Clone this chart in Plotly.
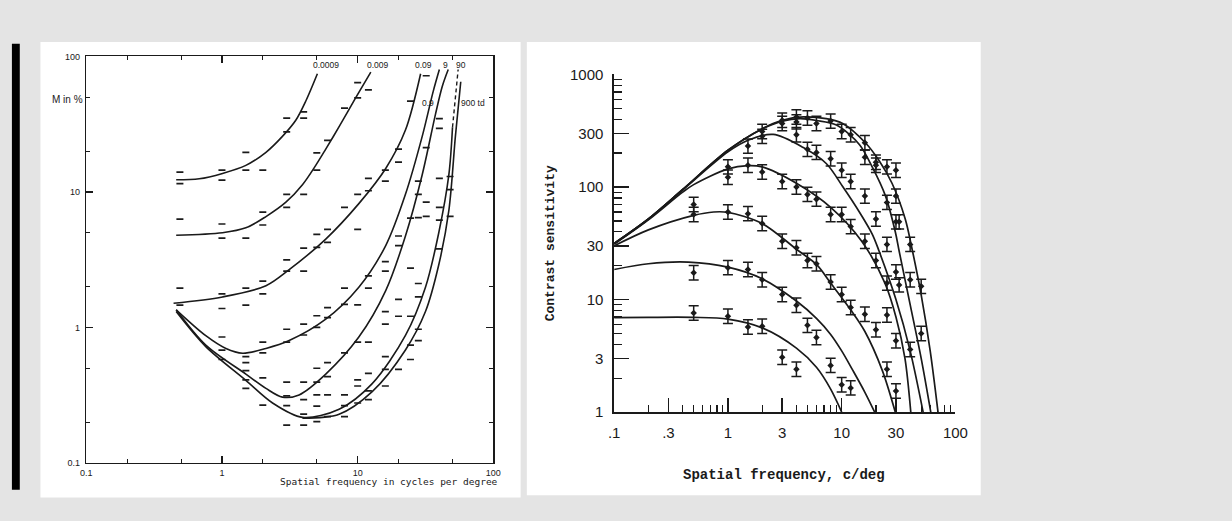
import plotly.graph_objects as go

W, H = 1232, 521

# ---------------- Left chart data (threshold modulation M in % vs spatial frequency) ----------------
c0009_x = [0.46, 0.68, 1.01, 1.5, 2.11, 2.79, 3.5, 4.15, 5.05]
c0009_y = [12.3, 12.5, 13.7, 15.7, 19.6, 25.7, 33.8, 46.9, 74.5]
c009_x = [0.46, 1.01, 1.5, 2.11, 2.96, 3.92, 4.91, 5.82, 7.3, 9.66, 12.5]
c009_y = [4.79, 5.0, 5.43, 6.58, 8.4, 11.3, 15.7, 20.7, 30.3, 49.4, 76.6]
c09_x = [0.44, 1.01, 2.11, 3.13, 5.82, 10.2, 16.1, 22.5, 29.1]
c09_y = [1.51, 1.68, 2.03, 2.67, 4.49, 8.2, 14.9, 28.6, 74.5]
c9_x = [0.46, 0.76, 1.07, 1.42, 2.11, 3.13, 5.82, 10.2, 16.1, 22.5, 29.9, 36.0, 40.0]
c9_y = [1.35, 0.87, 0.70, 0.646, 0.70, 0.80, 1.15, 1.98, 4.02, 9.6, 25.7, 55.0, 80.0]
c90_x = [0.46, 0.76, 1.5, 2.11, 2.79, 3.7, 5.82, 10.2, 16.1, 22.5, 29.9, 37.5, 42.0, 46.5]
c90_y = [1.35, 0.741, 0.453, 0.355, 0.306, 0.318, 0.453, 0.849, 1.87, 4.73, 13.4, 37.7, 60.0, 80.0]
c900_x = [0.46, 0.76, 1.5, 2.36, 3.92, 7.3, 12.8, 22.5, 31.6, 39.6, 47.0, 50.0]
c900_y = [1.31, 0.722, 0.407, 0.277, 0.217, 0.249, 0.385, 0.873, 1.98, 5.0, 13.4, 30.0]
c900d_x = [50.0, 52.5, 55.0]
c900d_y = [30.0, 50.0, 80.0]
c9000_x = [3.92, 7.3, 12.8, 22.5, 31.6, 39.6, 47.0, 52.5, 57.5]
c9000_y = [0.214, 0.229, 0.336, 0.682, 1.31, 2.9, 7.3, 25.7, 65.0]

lp_x = [0.49, 1.0, 1.5, 2.0, 3.0, 4.0, 5.0, 6.0, 8.0, 10.0, 12.0, 16.0, 20.0, 24.5, 28.0, 32.0, 40.0, 48.0]
lp_y = [
    [14.0, 11.5, 6.3, 1.95, 1.46],
    [14.5, 12.2, 5.8, 4.56, 1.77, 1.38, 0.85, 0.68, 0.58],
    [19.6, 14.5, 4.56, 1.95, 1.46, 0.61, 0.55, 0.48, 0.41, 0.355],
    [14.5, 7.1, 5.7, 2.2, 1.77, 0.78, 0.65, 0.425, 0.267],
    [35.0, 27.7, 9.6, 7.7, 3.15, 2.6, 0.97, 0.78, 0.395, 0.313, 0.265, 0.19],
    [39.0, 35.0, 9.6, 3.85, 2.6, 1.06, 0.88, 0.395, 0.293, 0.229, 0.19],
    [19.4, 14.5, 4.87, 3.9, 1.22, 1.0, 0.5, 0.395, 0.318, 0.263, 0.202],
    [24.0, 5.3, 4.25, 1.4, 1.18, 0.55, 0.434, 0.318, 0.22],
    [41.5, 7.7, 1.95, 1.48, 0.65, 0.318, 0.265, 0.22],
    [64.0, 49.5, 9.6, 5.3, 1.47, 0.78, 0.41, 0.37, 0.277],
    [56.7, 12.6, 10.2, 2.4, 1.95, 0.78, 0.458, 0.34, 0.293],
    [14.5, 12.0, 3.06, 2.6, 1.31, 1.06, 0.61, 0.49, 0.37],
    [20.7, 16.6, 4.73, 4.02, 1.61, 1.21, 0.49],
    [46.8, 6.4, 2.74, 1.21, 0.74, 0.58],
    [12.0, 9.6, 6.46, 2.11, 1.68, 0.97, 0.80],
    [72.0, 21.2, 8.4, 6.6],
    [34.7, 29.4, 12.6, 7.7, 6.2, 3.8],
    [13.0, 10.4, 6.6],
]
left_curve_labels = ["0.0009", "0.009", "0.09", "0.9", "9", "90", "900 td"]
left_xticks = [0.1, 1, 10, 100]
left_xtick_text = ["0.1", "1", "10", "100"]
left_yticks = [0.1, 1, 10, 100]
left_ytick_text = ["0.1", "1", "10", "100"]
left_minor = [0.2, 0.5, 2, 5, 20, 50]

# ---------------- Right chart data (contrast sensitivity) ----------------
r1_x = [0.1, 0.2, 0.4, 1, 2, 3, 4.6, 7.3, 10.2, 16.3, 21.3, 27.7, 36.2, 41.3, 50, 60, 70.3]
r1_y = [31.5, 52, 95, 212, 330, 392, 420, 405, 367, 245, 172, 108, 52, 29, 11, 3.5, 1.0]
r2_x = [0.1, 0.2, 0.4, 1, 2, 3, 4.3, 6, 9, 14.3, 18.6, 24.3, 29.6, 32, 40, 50, 60.7]
r2_y = [31.5, 52, 95, 212, 328, 385, 405, 390, 355, 239, 150, 83, 40, 27, 9, 3, 1.0]
r3_x = [0.1, 0.2, 0.4, 1, 1.5, 2.5, 4.6, 7.35, 10.2, 14.3, 18.6, 21.3, 30, 40, 52]
r3_y = [31.5, 52, 94, 205, 260, 293, 224, 161, 101, 60, 38, 27, 10, 3.5, 1.0]
r4_x = [0.1, 0.2, 0.4, 0.5, 1, 1.5, 2, 4, 8, 15, 24, 30, 36, 40.5]
r4_y = [31, 51, 90, 105, 145, 155, 151, 108, 66, 33, 14, 7, 3, 1.0]
r5_x = [0.1, 0.2, 0.5, 0.75, 1, 2, 4, 6, 8, 12, 16, 22.7, 29.6]
r5_y = [30, 41.6, 56, 60, 59.5, 47.4, 28, 20.5, 14, 8.1, 5.2, 2.36, 1.0]
r6_x = [0.1, 0.2, 0.45, 1, 2, 4, 6, 8, 10, 12.5, 16, 19.5]
r6_y = [18.5, 20.8, 21.5, 19.4, 15.3, 9.7, 6.8, 4.9, 3.5, 2.36, 1.5, 1.0]
r7_x = [0.1, 0.2, 0.5, 1, 2, 4, 6, 8, 10]
r7_y = [6.9, 6.95, 6.95, 6.7, 5.6, 3.7, 2.5, 1.6, 1.0]

rp_x = [0.5, 1, 1.5, 2, 3, 4, 5, 6, 8, 10, 12, 16, 20, 25, 30, 32, 40, 50]
rp_y = [
    [7.6, 17.3, 57, 70],
    [7.1, 19.2, 60, 122, 151],
    [5.7, 18.5, 58, 156, 231],
    [5.8, 15.0, 47.4, 136, 282, 311],
    [3.07, 11.1, 33, 112, 392, 367],
    [2.4, 8.9, 28.9, 100, 291, 419, 379],
    [5.9, 22.2, 86, 216, 410],
    [4.6, 20.8, 78, 203, 367],
    [2.6, 14.3, 57, 178, 385],
    [1.75, 11.1, 57, 141, 311],
    [1.64, 8.5, 44.5, 112, 291],
    [7.4, 33, 83, 184, 247],
    [5.4, 22.2, 52, 166, 156],
    [2.4, 7.3, 14.0, 30.9, 73, 151],
    [1.54, 4.3, 17.6, 49, 83, 141],
    [13.5, 49],
    [3.6, 15.0, 30.9],
    [5.0, 13.1],
]
err_decades = 0.064
right_xticks = [0.1, 0.3, 1, 3, 10, 30, 100]
right_xtick_text = [".1", ".3", "1", "3", "10", "30", "100"]
right_yticks = [1, 3, 10, 30, 100, 300, 1000]
right_ytick_text = ["1", "3", "10", "30", "100", "300", "1000"]
right_xminor = [0.2, 0.4, 0.5, 0.6, 0.7, 0.8, 0.9, 2, 4, 5, 6, 7, 8, 9,
                20, 40, 50, 60, 70, 80, 90]
right_yminor = [2, 4, 5, 6, 7, 8, 9, 20, 40, 50, 60, 70, 80, 90,
                200, 400, 500, 600, 700, 800, 900]


def px(x):
    return x / W


def py(y):
    return 1 - y / H


INK = "#1a1a1a"
fig = go.Figure()

# ---- left curves
line_style = dict(color=INK, width=1.6, shape="spline", smoothing=0.9)
for cx, cy in [(c0009_x, c0009_y), (c009_x, c009_y), (c09_x, c09_y), (c9_x, c9_y),
               (c90_x, c90_y), (c900_x, c900_y), (c9000_x, c9000_y)]:
    fig.add_trace(go.Scatter(x=cx, y=cy, mode="lines", line=line_style,
                             xaxis="x", yaxis="y", hoverinfo="skip", showlegend=False))
fig.add_trace(go.Scatter(x=c900d_x, y=c900d_y, mode="lines",
                         line=dict(color=INK, width=1.4, dash="4px,3px"),
                         xaxis="x", yaxis="y", showlegend=False, hoverinfo="skip"))
lx_all, ly_all = [], []
for xv, ys in zip(lp_x, lp_y):
    for yv in ys:
        lx_all.append(xv)
        ly_all.append(yv)
fig.add_trace(go.Scatter(x=lx_all, y=ly_all, mode="markers",
                         marker=dict(symbol="line-ew", size=5, line=dict(color=INK, width=1.7)),
                         xaxis="x", yaxis="y", showlegend=False))

# ---- right curves
rline = dict(color=INK, width=1.7, shape="spline", smoothing=0.9)
for cx, cy in [(r1_x, r1_y), (r2_x, r2_y), (r3_x, r3_y), (r4_x, r4_y),
               (r5_x, r5_y), (r6_x, r6_y), (r7_x, r7_y)]:
    fig.add_trace(go.Scatter(x=cx, y=cy, mode="lines", line=rline,
                             xaxis="x2", yaxis="y2", hoverinfo="skip", showlegend=False))
rx_all, ry_all = [], []
for xv, ys in zip(rp_x, rp_y):
    for yv in ys:
        rx_all.append(xv)
        ry_all.append(yv)
up = [v * (10 ** err_decades - 1) for v in ry_all]
dn = [v * (1 - 10 ** -err_decades) for v in ry_all]
fig.add_trace(go.Scatter(x=rx_all, y=ry_all, mode="markers",
                         marker=dict(symbol="diamond", size=5, color=INK),
                         error_y=dict(type="data", symmetric=False, array=up, arrayminus=dn,
                                      color=INK, thickness=1.5, width=5),
                         xaxis="x2", yaxis="y2", showlegend=False))

# ---- panels
shapes = [
    dict(type="rect", xref="paper", yref="paper", x0=px(35), x1=px(522.7), y0=py(505), y1=py(34),
         fillcolor="white", line=dict(width=0), layer="below"),
    dict(type="rect", xref="paper", yref="paper", x0=px(529), x1=px(990), y0=py(502.7), y1=py(34),
         fillcolor="white", line=dict(width=0), layer="below"),
    dict(type="rect", xref="paper", yref="paper", x0=px(6), x1=px(14), y0=py(497), y1=py(36),
         fillcolor="black", line=dict(width=0), layer="below"),
]

lfont = dict(family="Liberation Sans", size=9, color=INK)
rfont = dict(family="Liberation Sans", size=15, color=INK)

annotations = []
lab_pos = [(325, 57.7), (378, 57.7), (424.5, 57.7), (428.5, 96.7), (446.7, 57.7), (462, 57.7), (474, 96.7)]
for (xx, yy), t in zip(lab_pos, left_curve_labels):
    annotations.append(dict(x=px(xx), y=py(yy), xref="paper", yref="paper", text=t,
                            showarrow=False, font=dict(family="Liberation Sans", size=8.5, color=INK),
                            xanchor="center", yanchor="middle"))
annotations.append(dict(x=px(80), y=py(93.5), xref="paper", yref="paper", text="M in %",
                        showarrow=False, font=dict(family="Liberation Sans", size=10, color=INK),
                        xanchor="right", yanchor="middle"))
annotations.append(dict(x=px(389.5), y=py(488), xref="paper", yref="paper",
                        text="Spatial frequency in cycles per degree", showarrow=False,
                        font=dict(family="DejaVu Sans Mono", size=9.5, color=INK),
                        xanchor="center", yanchor="middle"))
annotations.append(dict(x=px(553), y=py(241.7), xref="paper", yref="paper",
                        text="<b>Contrast sensitivity</b>", showarrow=False, textangle=-90,
                        font=dict(family="Liberation Mono", size=13, color=INK),
                        xanchor="center", yanchor="middle"))
annotations.append(dict(x=px(790), y=py(481.7), xref="paper", yref="paper",
                        text="<b>Spatial frequency, c/deg</b>", showarrow=False,
                        font=dict(family="Liberation Mono", size=14, color=INK),
                        xanchor="center", yanchor="middle"))

fig.update_layout(
    width=W, height=H,
    margin=dict(l=0, r=0, t=0, b=0),
    paper_bgcolor="#e4e4e4",
    plot_bgcolor="rgba(0,0,0,0)",
    showlegend=False,
    hovermode=False,
    shapes=shapes,
    annotations=annotations,
    xaxis=dict(type="log", range=[-1, 2], domain=[px(81.5), px(495)], anchor="y",
               showline=True, linecolor=INK, linewidth=1.4, mirror="ticks",
               ticks="inside", ticklen=7, tickwidth=1.2, tickcolor=INK,
               tickvals=left_xticks, ticktext=left_xtick_text, tickfont=lfont,
               ticklabelstandoff=1,
               minor=dict(tickvals=left_minor, ticks="inside", ticklen=4, tickwidth=1.1, tickcolor=INK),
               showgrid=False, zeroline=False),
    yaxis=dict(type="log", range=[-1, 2], domain=[py(469.3), py(49)], anchor="x",
               showline=True, linecolor=INK, linewidth=1.4, mirror="ticks",
               ticks="inside", ticklen=7, tickwidth=1.2, tickcolor=INK,
               tickvals=left_yticks, ticktext=left_ytick_text, tickfont=lfont,
               ticklabelstandoff=3,
               minor=dict(tickvals=left_minor, ticks="inside", ticklen=4, tickwidth=1.1, tickcolor=INK),
               showgrid=False, zeroline=False),
    xaxis2=dict(type="log", range=[-1, 2], domain=[px(617.7), px(964.3)], anchor="y2",
                showline=True, linecolor=INK, linewidth=1.8,
                ticks="inside", ticklen=14, tickwidth=1.5, tickcolor=INK,
                tickvals=right_xticks, ticktext=right_xtick_text, tickfont=rfont,
                ticklabelstandoff=6,
                minor=dict(tickvals=right_xminor, ticks="inside", ticklen=7, tickwidth=1.3, tickcolor=INK),
                showgrid=False, zeroline=False),
    yaxis2=dict(type="log", range=[0, 3], domain=[py(416.7), py(67.67)], anchor="x2",
                showline=True, linecolor=INK, linewidth=1.8,
                ticks="inside", ticklen=15, tickwidth=1.5, tickcolor=INK,
                tickvals=right_yticks, ticktext=right_ytick_text, tickfont=rfont,
                ticklabelstandoff=6,
                minor=dict(tickvals=right_yminor, ticks="inside", ticklen=8, tickwidth=1.3, tickcolor=INK),
                showgrid=False, zeroline=False),
)

fig.write_html("out.html", config={"displayModeBar": False, "staticPlot": True},
               post_script="document.body.style.margin='0px';document.body.style.overflow='hidden';")
